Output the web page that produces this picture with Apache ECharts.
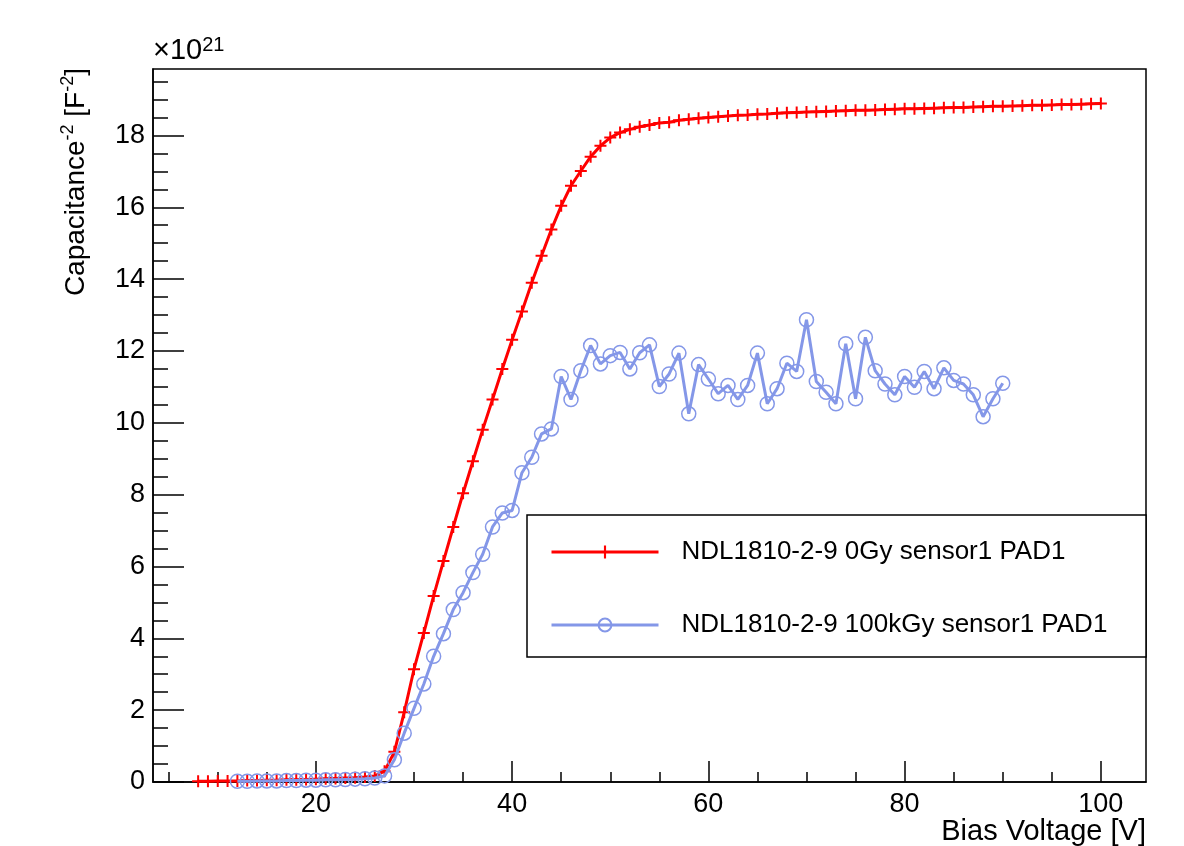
<!DOCTYPE html>
<html>
<head>
<meta charset="utf-8">
<title>C-V curve</title>
<script src="https://cdn.jsdelivr.net/npm/echarts@6.0.0/dist/echarts.min.js"></script>
<style>
  html, body { margin: 0; padding: 0; background: #fff; }
  #chart { width: 1184px; height: 846px; }
</style>
</head>
<body>
<div id="chart"></div>
<script>
// bias voltage [V] and 1/C^2 [x1e21 F^-2]
const redVoltage = [
  8, 9, 10, 11, 12, 13, 14, 15, 16, 17, 18, 19, 20, 21, 22, 23, 24, 25, 26, 27,
  28, 29, 30, 31, 32, 33, 34, 35, 36, 37, 38, 39, 40, 41, 42, 43, 44, 45, 46, 47,
  48, 49, 50, 51, 52, 53, 54, 55, 56, 57, 58, 59, 60, 61, 62, 63, 64, 65, 66, 67,
  68, 69, 70, 71, 72, 73, 74, 75, 76, 77, 78, 79, 80, 81, 82, 83, 84, 85, 86, 87,
  88, 89, 90, 91, 92, 93, 94, 95, 96, 97, 98, 99, 100
]
const redCap = [
  0.02, 0.02, 0.03, 0.03, 0.03, 0.04, 0.04, 0.05, 0.05, 0.06, 0.06, 0.07, 0.08, 0.09, 0.10, 0.11, 0.12, 0.14, 0.17, 0.30,
  0.84, 1.94, 3.14, 4.15, 5.18, 6.15, 7.10, 8.04, 8.93, 9.81, 10.65, 11.50, 12.31, 13.10, 13.90, 14.65, 15.38, 16.04, 16.60, 17.01,
  17.41, 17.71, 17.94, 18.08, 18.17, 18.24, 18.29, 18.35, 18.37, 18.42, 18.45, 18.48, 18.50, 18.52, 18.54, 18.56, 18.57, 18.59, 18.60, 18.62,
  18.63, 18.64, 18.65, 18.66, 18.67, 18.68, 18.69, 18.70, 18.70, 18.71, 18.72, 18.73, 18.74, 18.74, 18.75, 18.76, 18.77, 18.78, 18.78, 18.79,
  18.80, 18.81, 18.81, 18.82, 18.83, 18.84, 18.84, 18.85, 18.86, 18.86, 18.87, 18.88, 18.89
]
const blueVoltage = [
  12, 13, 14, 15, 16, 17, 18, 19, 20, 21, 22, 23, 24, 25, 26, 27,
  28, 29, 30, 31, 32, 33, 34, 35, 36, 37, 38, 39, 40, 41, 42, 43, 44, 45, 46, 47,
  48, 49, 50, 51, 52, 53, 54, 55, 56, 57, 58, 59, 60, 61, 62, 63, 64, 65, 66, 67,
  68, 69, 70, 71, 72, 73, 74, 75, 76, 77, 78, 79, 80, 81, 82, 83, 84, 85, 86, 87,
  88, 89, 90
]
const blueCap = [
  0.02, 0.02, 0.03, 0.03, 0.03, 0.04, 0.04, 0.05, 0.05, 0.06, 0.06, 0.07, 0.08, 0.09, 0.11, 0.17,
  0.62, 1.36, 2.05, 2.73, 3.50, 4.13, 4.80, 5.27, 5.83, 6.34, 7.10, 7.49, 7.56, 8.61, 9.04, 9.69, 9.83, 11.29, 10.65, 11.45,
  12.15, 11.64, 11.87, 11.96, 11.50, 11.95, 12.17, 11.01, 11.36, 11.94, 10.25, 11.62, 11.22, 10.81, 11.04, 10.65, 11.04, 11.94, 10.53, 10.95,
  11.66, 11.43, 12.87, 11.15, 10.85, 10.53, 12.20, 10.67, 12.38, 11.45, 11.08, 10.78, 11.29, 10.99, 11.43, 10.95, 11.53, 11.18, 11.08, 10.78,
  10.17, 10.67, 11.10
]
const seriesNames = ['NDL1810-2-9 0Gy sensor1 PAD1', 'NDL1810-2-9 100kGy sensor1 PAD1']

// tick positions
const xMajorTicks = [20, 40, 60, 80, 100]
const xMinorTicks = [5, 10, 15, 20, 25, 30, 35, 40, 45, 50, 55, 60, 65, 70, 75, 80, 85, 90, 95, 100]
const yMajorTicks = [0, 2, 4, 6, 8, 10, 12, 14, 16, 18]
const yMinorTicks = [
  0, 0.5, 1, 1.5, 2, 2.5, 3, 3.5, 4, 4.5, 5, 5.5, 6, 6.5, 7, 7.5, 8, 8.5, 9, 9.5,
  10, 10.5, 11, 11.5, 12, 12.5, 13, 13.5, 14, 14.5, 15, 15.5, 16, 16.5, 17, 17.5, 18, 18.5, 19, 19.5
]

const FONT = 'Liberation Sans, Arial, Helvetica, sans-serif'
const RED = '#ff0000'
const BLUE = '#8497e8'
const X_RANGE = [3.4, 104.6]
const Y_RANGE = [0, 19.85]

// ROOT style "+" marker
const PLUS = 'path://M-1,-6L1,-6L1,-1L6,-1L6,1L1,1L1,6L-1,6L-1,1L-6,1L-6,-1L-1,-1Z'

const pairs = (xs, ys) => xs.map((x, i) => [x, ys[i]])

const chart = echarts.init(document.getElementById('chart'), null, { renderer: 'canvas' })

const option = {
  animation: false,
  backgroundColor: '#fff',
  grid: {
    left: 153,
    right: 38,
    top: 69,
    bottom: 64,
    show: true,
    borderColor: '#000',
    borderWidth: 1.5,
    backgroundColor: 'transparent'
  },
  xAxis: [
    {
      type: 'value',
      min: X_RANGE[0],
      max: X_RANGE[1],
      axisLine: { show: true, onZero: false, lineStyle: { color: '#000', width: 1.5 } },
      axisTick: { show: true, inside: true, length: 21, customValues: xMajorTicks, lineStyle: { color: '#000', width: 1.5 } },
      axisLabel: { customValues: xMajorTicks, color: '#000', fontSize: 27, fontFamily: FONT, margin: 9 },
      splitLine: { show: false }
    },
    {
      // minor ticks only
      type: 'value',
      min: X_RANGE[0],
      max: X_RANGE[1],
      position: 'bottom',
      axisLine: { show: false },
      axisTick: { show: true, inside: true, length: 10, customValues: xMinorTicks, lineStyle: { color: '#000', width: 1.5 } },
      axisLabel: { show: false },
      splitLine: { show: false }
    }
  ],
  yAxis: [
    {
      type: 'value',
      min: Y_RANGE[0],
      max: Y_RANGE[1],
      axisLine: { show: true, onZero: false, lineStyle: { color: '#000', width: 1.5 } },
      axisTick: { show: true, inside: true, length: 31, customValues: yMajorTicks, lineStyle: { color: '#000', width: 1.5 } },
      axisLabel: { customValues: yMajorTicks, color: '#000', fontSize: 27, fontFamily: FONT, margin: 8 },
      splitLine: { show: false }
    },
    {
      type: 'value',
      min: Y_RANGE[0],
      max: Y_RANGE[1],
      position: 'left',
      axisLine: { show: false },
      axisTick: { show: true, inside: true, length: 15, customValues: yMinorTicks, lineStyle: { color: '#000', width: 1.5 } },
      axisLabel: { show: false },
      splitLine: { show: false }
    }
  ],
  legend: {
    orient: 'vertical',
    left: 550,
    top: 539,
    padding: 0,
    itemWidth: 107,
    itemHeight: 16,
    itemGap: 47,
    z: 20,
    lineStyle: { width: 3 },
    textStyle: { color: '#000', fontSize: 26, fontFamily: FONT, padding: [0, 0, 0, 18] },
    data: seriesNames
  },
  graphic: [
    {
      // legend frame
      type: 'rect',
      z: 15,
      shape: { x: 527, y: 515, width: 619, height: 142 },
      style: { fill: '#fff', stroke: '#000', lineWidth: 1.5 }
    },
    {
      type: 'text',
      left: 153,
      top: 35,
      style: {
        text: '{m|\u00d710}{s|21}',
        rich: {
          m: { fontSize: 29, fontFamily: FONT, fill: '#000', lineHeight: 32 },
          s: { fontSize: 20, fontFamily: FONT, fill: '#000', verticalAlign: 'top', lineHeight: 18 }
        }
      }
    },
    {
      type: 'text',
      x: 76,
      y: 68,
      rotation: Math.PI / 2,
      style: {
        text: '{m|Capacitance}{s|-2}{m| [F}{s|-2}{m|]}',
        align: 'right',
        verticalAlign: 'middle',
        rich: {
          m: { fontSize: 28, fontFamily: FONT, fill: '#000', lineHeight: 34 },
          s: { fontSize: 18, fontFamily: FONT, fill: '#000', verticalAlign: 'top', lineHeight: 18 }
        }
      }
    },
    {
      type: 'text',
      x: 1146,
      y: 846,
      style: {
        text: 'Bias Voltage [V]',
        align: 'right',
        verticalAlign: 'bottom',
        fontSize: 29,
        fontFamily: FONT,
        fill: '#000'
      }
    }
  ],
  series: [
    {
      name: seriesNames[0],
      type: 'line',
      data: pairs(redVoltage, redCap),
      symbol: PLUS,
      symbolSize: 12,
      showAllSymbol: true,
      itemStyle: { color: RED },
      lineStyle: { color: RED, width: 3 },
      z: 2
    },
    {
      name: seriesNames[1],
      type: 'line',
      data: pairs(blueVoltage, blueCap),
      symbol: 'circle',
      symbolSize: 14,
      showAllSymbol: true,
      itemStyle: { color: 'rgba(255,255,255,0)', borderColor: BLUE, borderWidth: 1.5 },
      lineStyle: { color: BLUE, width: 3 },
      z: 3
    }
  ]
}

chart.setOption(option)
</script>
</body>
</html>
